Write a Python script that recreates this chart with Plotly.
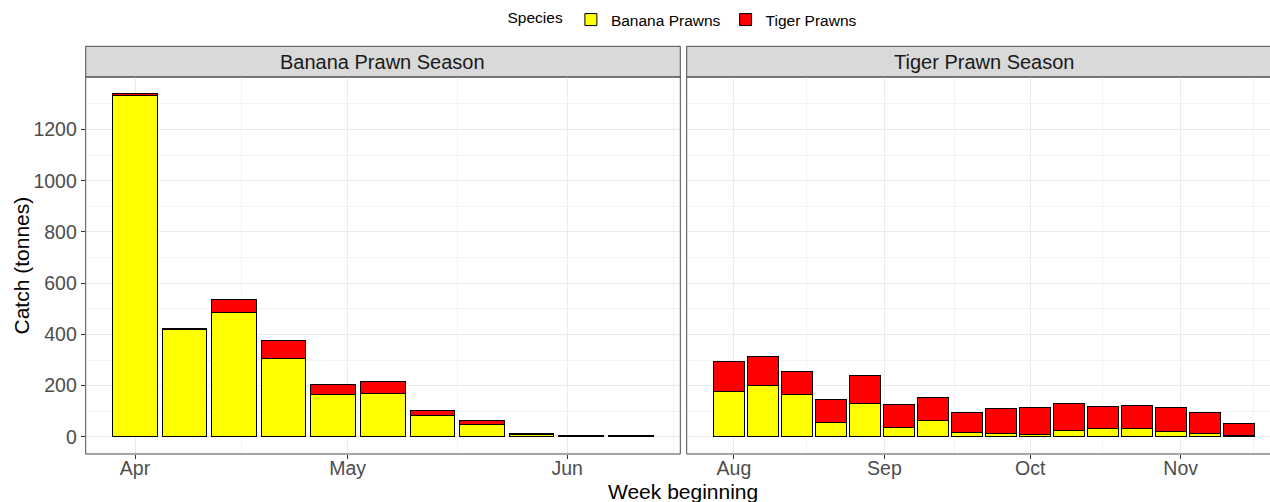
import pandas as pd
import plotly.graph_objects as go

# ---------------- data ----------------
banana_season_weeks = pd.date_range("2019-04-01", periods=11, freq="7D")
banana_season_banana = [1330, 416, 482, 303, 162, 169, 82, 47, 9, 3, 2]
banana_season_tiger = [8, 5, 54, 70, 41, 47, 18, 13, 4, 2, 2]

tiger_season_weeks = pd.date_range("2019-07-31", periods=16, freq="7D")
tiger_season_banana = [177, 197, 164, 56, 129, 36, 60, 16, 10, 7, 21, 29, 31, 20, 10, 5]
tiger_season_tiger = [114, 113, 90, 87, 108, 90, 91, 78, 97, 106, 109, 88, 90, 93, 84, 46]

species = ["Banana Prawns", "Tiger Prawns"]
species_colors = {"Banana Prawns": "#FFFF00", "Tiger Prawns": "#FF0000"}
panel_titles = ["Banana Prawn Season", "Tiger Prawn Season"]

left_ticks = ["2019-04-01", "2019-05-01", "2019-06-01"]
left_ticktext = ["Apr", "May", "Jun"]
left_minor = ["2019-04-16", "2019-05-16 12:00", "2019-06-16"]
right_ticks = ["2019-08-01", "2019-09-01", "2019-10-01", "2019-11-01"]
right_ticktext = ["Aug", "Sep", "Oct", "Nov"]
right_minor = ["2019-08-16", "2019-09-15 12:00", "2019-10-16", "2019-11-16"]

y_major = [0, 200, 400, 600, 800, 1000, 1200]
y_minor = [100, 300, 500, 700, 900, 1100, 1300]

# ---------------- geometry ----------------
W, H = 1270, 502
DAY = pd.Timedelta(days=1)
bar_w_days = 0.9 * 7
bar_w_ms = bar_w_days * 86400000


def expanded_range(weeks):
    lo = weeks[0] - bar_w_days / 2 * DAY
    hi = weeks[-1] + bar_w_days / 2 * DAY
    span = hi - lo
    return lo - 0.05 * span, hi + 0.05 * span


# positions in screen pixels
lx0, lx1 = 85.7, 680.3
rx0 = 686.7
rx1_full = rx0 + (lx1 - lx0)
py0, py1 = 77.0, 454.0
sy0 = 46.3


def px(x):
    return x / W


def py(y):
    return (H - y) / H


l_lo, l_hi = expanded_range(banana_season_weeks)
r_lo, r_hi = expanded_range(tiger_season_weeks)
# right panel is as wide as the left one but cut off at the page edge
r_hi_clip = r_lo + (r_hi - r_lo) * ((W - rx0) / (rx1_full - rx0))

ymax = max(b + t for b, t in zip(banana_season_banana, banana_season_tiger))
y_lo, y_hi = -0.05 * ymax, ymax * 1.05

fig = go.Figure()

for xa, ya, weeks, ban, tig, show in [
    ("x", "y", banana_season_weeks, banana_season_banana, banana_season_tiger, True),
    ("x2", "y2", tiger_season_weeks, tiger_season_banana, tiger_season_tiger, False),
]:
    for name, vals in zip(species, [ban, tig]):
        fig.add_trace(go.Bar(
            x=weeks, y=vals, width=bar_w_ms, name=name,
            marker=dict(color=species_colors[name], line=dict(color="#000000", width=1)),
            xaxis=xa, yaxis=ya, showlegend=show, legendgroup=name,
        ))

grid = "#EBEBEB"
minor_grid = "#F3F3F3"
FONT = "Liberation Sans, Arial, sans-serif"
tickfont = dict(family=FONT, size=19.5, color="#4D4D4D")

common_x = dict(showline=False, zeroline=False, showgrid=True, gridcolor=grid, gridwidth=1,
                ticks="outside", ticklen=4, tickwidth=1, tickcolor="#333333",
                tickfont=tickfont, tickmode="array", ticklabelstandoff=-7)

fig.update_layout(
    width=W, height=H,
    margin=dict(l=0, r=0, t=0, b=0),
    paper_bgcolor="white", plot_bgcolor="white",
    barmode="stack", bargap=0,
    font=dict(family=FONT, color="#000000"),
    xaxis=dict(domain=[px(lx0), px(lx1)], range=[l_lo, l_hi], type="date",
               tickvals=left_ticks, ticktext=left_ticktext,
               minor=dict(tickvals=left_minor, showgrid=True, gridcolor=minor_grid, gridwidth=1, ticks=""),
               **common_x),
    xaxis2=dict(domain=[px(rx0), 1.0], range=[r_lo, r_hi_clip], type="date", anchor="y2",
                tickvals=right_ticks, ticktext=right_ticktext,
                minor=dict(tickvals=right_minor, showgrid=True, gridcolor=minor_grid, gridwidth=1, ticks=""),
                **common_x),
    yaxis=dict(domain=[py(py1), py(py0)], range=[y_lo, y_hi], showline=False, zeroline=False,
               showgrid=True, gridcolor=grid, gridwidth=1, tickmode="array", tickvals=y_major,
               ticks="outside", ticklen=4, tickwidth=1, tickcolor="#333333", tickfont=tickfont,
               minor=dict(tickvals=y_minor, showgrid=True, gridcolor=minor_grid, gridwidth=1, ticks=""),
               anchor="x"),
    yaxis2=dict(domain=[py(py1), py(py0)], range=[y_lo, y_hi], matches="y", showline=False,
                zeroline=False, showgrid=True, gridcolor=grid, gridwidth=1, tickmode="array",
                tickvals=y_major, showticklabels=False, ticks="",
                minor=dict(tickvals=y_minor, showgrid=True, gridcolor=minor_grid, gridwidth=1, ticks=""),
                anchor="x2"),
    legend=dict(orientation="h", x=px(684), xanchor="center", y=py(3), yanchor="top",
                title=dict(text="Species", font=dict(family=FONT, size=15.5, color="#000000"), side="left"),
                font=dict(family=FONT, size=15.5, color="#000000"), itemwidth=30, traceorder="normal",
                bgcolor="rgba(0,0,0,0)"),
)

shapes = []
border = dict(color="#4D4D4D", width=1)
# strips
shapes.append(dict(type="rect", xref="paper", yref="paper", x0=px(lx0), x1=px(lx1), y0=py(py0), y1=py(sy0),
                   fillcolor="#D9D9D9", line=border, layer="below"))
shapes.append(dict(type="rect", xref="paper", yref="paper", x0=px(rx0), x1=px(rx1_full), y0=py(py0), y1=py(sy0),
                   fillcolor="#D9D9D9", line=border, layer="below"))
# panel borders
shapes.append(dict(type="rect", xref="paper", yref="paper", x0=px(lx0), x1=px(lx1), y0=py(py1), y1=py(py0),
                   fillcolor="rgba(0,0,0,0)", line=border, layer="above"))
shapes.append(dict(type="rect", xref="paper", yref="paper", x0=px(rx0), x1=px(rx1_full), y0=py(py1), y1=py(py0),
                   fillcolor="rgba(0,0,0,0)", line=border, layer="above"))
fig.update_layout(shapes=shapes)

strip_font = dict(family=FONT, size=20, color="#1A1A1A")
title_font = dict(family=FONT, size=21, color="#000000")
fig.add_annotation(x=px((lx0 + lx1) / 2), y=py((sy0 + py0) / 2), xref="paper", yref="paper",
                   text=panel_titles[0], showarrow=False, font=strip_font, xanchor="center", yanchor="middle")
fig.add_annotation(x=px((rx0 + rx1_full) / 2), y=py((sy0 + py0) / 2), xref="paper", yref="paper",
                   text=panel_titles[1], showarrow=False, font=strip_font, xanchor="center", yanchor="middle")
fig.add_annotation(x=px(21), y=py((py0 + py1) / 2), xref="paper", yref="paper", text="Catch (tonnes)",
                   textangle=-90, showarrow=False, font=title_font, xanchor="center", yanchor="middle")
fig.add_annotation(x=px((lx0 + rx1_full) / 2), y=py(491), xref="paper", yref="paper", text="Week beginning",
                   showarrow=False, font=title_font, xanchor="center", yanchor="middle")

fig.write_html(
    "out.html",
    config={"displayModeBar": False},
    post_script="document.body.style.margin='0';document.body.style.overflow='hidden';",
)
